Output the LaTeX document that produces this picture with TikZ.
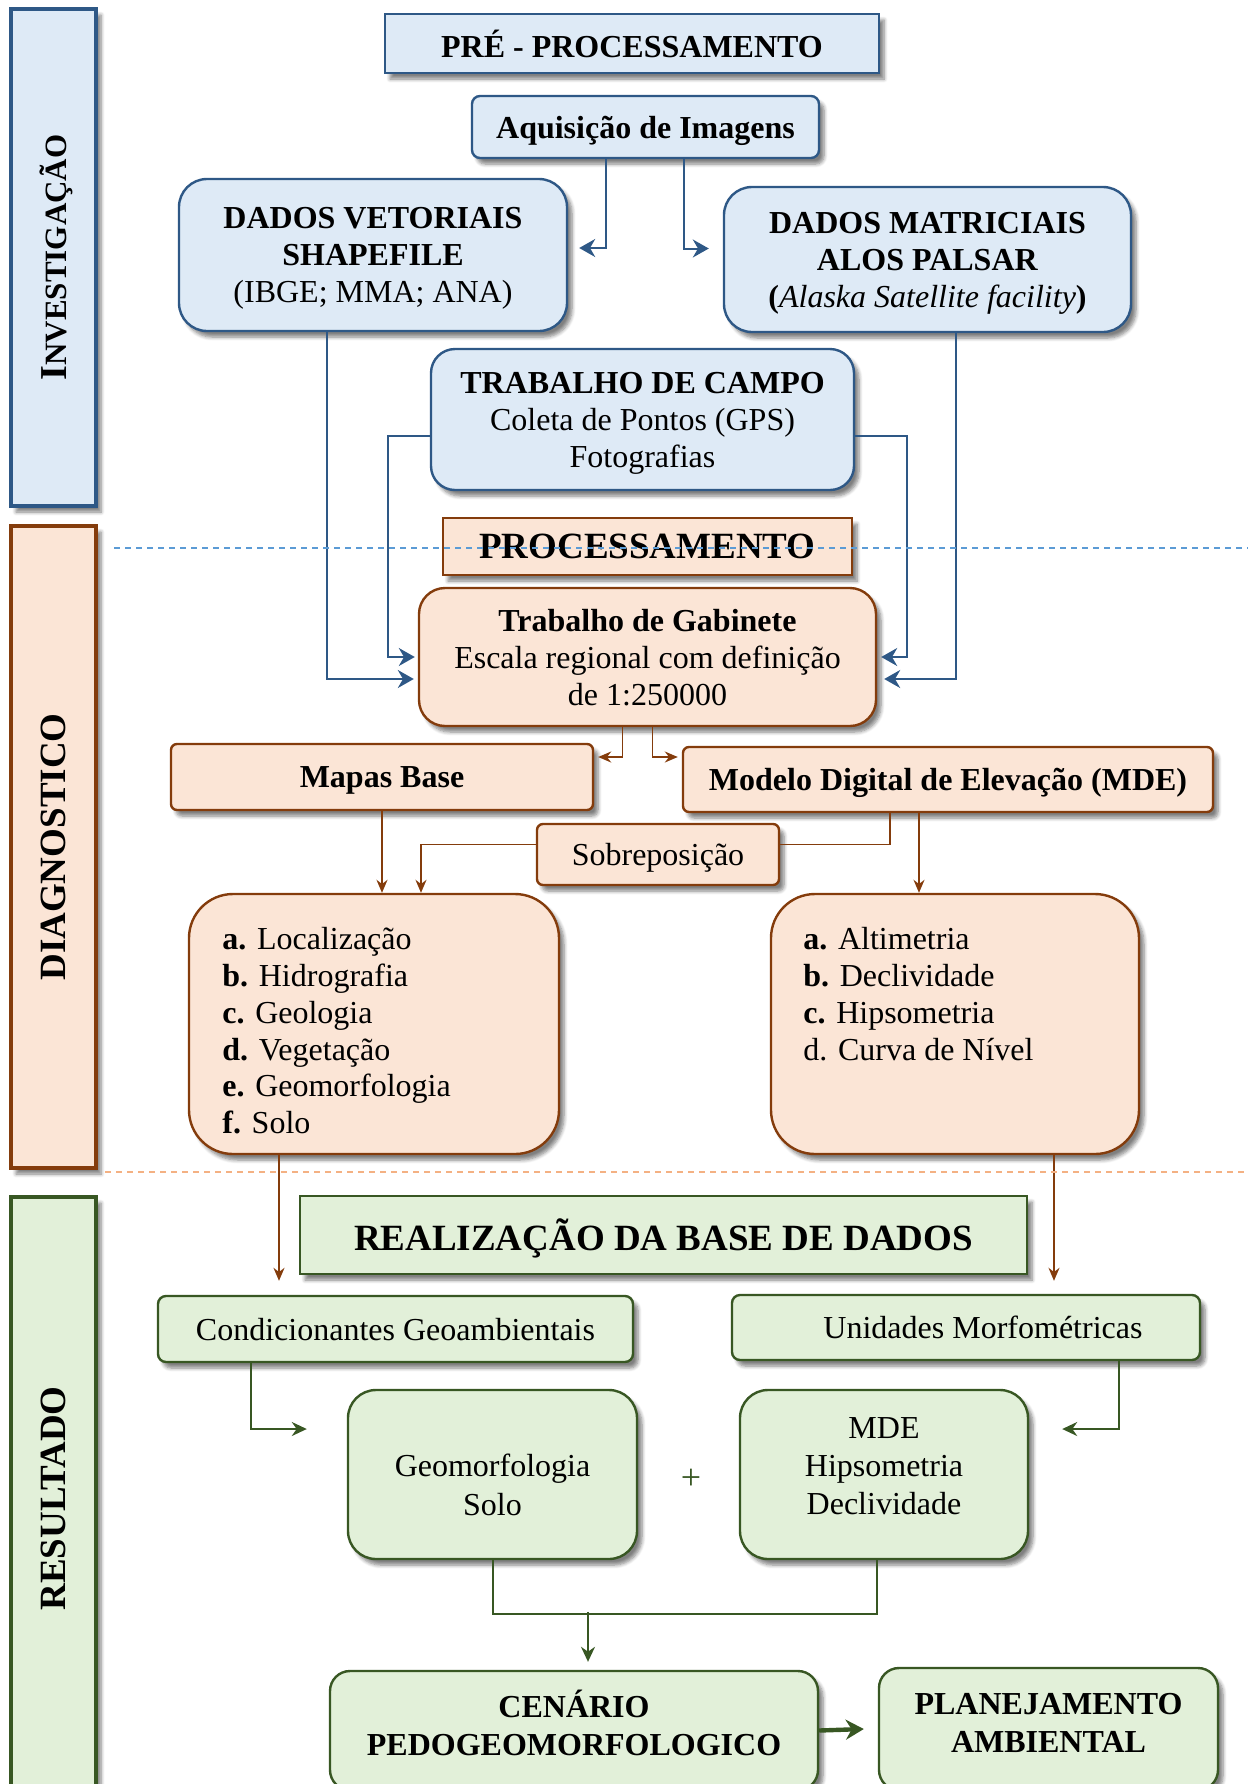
\documentclass[tikz,border=0pt]{standalone}
\usepackage{fontspec}
\setmainfont{Liberation Serif}
\usetikzlibrary{arrows.meta, calc, shadows.blur}

\definecolor{azulFundo}{HTML}{DEEAF6}
\definecolor{azulBorda}{HTML}{2E5886}
\definecolor{azulTraco}{HTML}{5B9BD5}
\definecolor{laranjaFundo}{HTML}{FBE5D6}
\definecolor{marromBorda}{HTML}{843C0C}
\definecolor{laranjaTraco}{HTML}{F4B183}
\definecolor{verdeFundo}{HTML}{E2F0D9}
\definecolor{verdeBorda}{HTML}{385723}

\begin{document}
\begin{tikzpicture}[x=0.5pt, y=-0.5pt,
    every node/.style={font=\fontsize{16}{18.5}\selectfont, align=center, inner sep=2pt, text depth=0pt},
    sombra/.style={blur shadow={shadow xshift=2.5pt, shadow yshift=-3pt, shadow blur steps=6, shadow opacity=50}},
    caixaAzul/.style={draw=azulBorda, fill=azulFundo, line width=1.2pt, sombra},
    caixaLaranja/.style={draw=marromBorda, fill=laranjaFundo, line width=1.2pt, sombra},
    caixaVerde/.style={draw=verdeBorda, fill=verdeFundo, line width=1.2pt, sombra},
    faixaTexto/.style={rotate=90, font=\fontsize{18.5}{18.5}\selectfont\bfseries},
    setaAzul/.style={draw=azulBorda, line width=1pt, -{Stealth[length=8pt,width=9pt]}},
    setaMarrom/.style={draw=marromBorda, line width=0.9pt, -{Stealth[length=6.5pt,width=5.5pt]}},
    setaVerde/.style={draw=verdeBorda, line width=1pt, -{Stealth[length=7.5pt,width=7pt]}},
  ]
  \useasboundingbox (0,0) rectangle (1248,1784);

  % Side bars
  \node[caixaAzul, line width=1.6pt, minimum width=42.5pt, minimum height=248.5pt] (barInv) at (53.5,257.5) {};
  \node[caixaLaranja, line width=1.6pt, minimum width=42.5pt, minimum height=321pt] (barDiag) at (53.5,847) {};
  \node[caixaVerde, line width=1.6pt, minimum width=42.5pt, minimum height=301.5pt] (barRes) at (53.5,1498.5) {};
  \node[faixaTexto] (txtInv) at (barInv) {{\fontsize{19}{19}\selectfont I}{\fontsize{15.5}{15.5}\selectfont NVESTIGAÇÃO}};
  \node[faixaTexto] (txtDiag) at (barDiag) {DIAGNOSTICO};
  \node[faixaTexto] (txtRes) at (barRes) {RESULTADO};

  % Nodes for pre-processing
  \node[caixaAzul, minimum width=247pt, minimum height=29.5pt] (pre) at (632,43.5) {\textbf{PRÉ - PROCESSAMENTO}};
  \node[caixaAzul, rounded corners=4pt, minimum width=173.5pt, minimum height=31pt] (aquis) at (645.5,127) {\textbf{Aquisição de Imagens}};
  \node[caixaAzul, rounded corners=14pt, minimum width=194pt, minimum height=76pt] (vetor) at (373,255)
    {\textbf{DADOS VETORIAIS}\\\textbf{SHAPEFILE}\\(IBGE; MMA; ANA)};
  \node[caixaAzul, rounded corners=14pt, minimum width=203.5pt, minimum height=72.5pt] (matric) at (927.5,259.5)
    {\textbf{DADOS MATRICIAIS}\\\textbf{ALOS PALSAR}\\\textbf{(}\textit{Alaska Satellite facility}\textbf{)}};
  \node[caixaAzul, rounded corners=12pt, minimum width=211.5pt, minimum height=70.5pt] (campo) at (642.5,419.5)
    {\textbf{TRABALHO DE CAMPO}\\Coleta de Pontos (GPS)\\Fotografias};

  % Nodes for processing
  \node[caixaLaranja, minimum width=204.5pt, minimum height=28.5pt, font=\fontsize{18.5}{18.5}\selectfont\bfseries] (proc) at (647.5,546.5) {PROCESSAMENTO};
  \node[caixaLaranja, rounded corners=13pt, minimum width=228.5pt, minimum height=69pt] (gabin) at (647.5,657)
    {\textbf{Trabalho de Gabinete}\\Escala regional com definição\\de 1:250000};
  \node[caixaLaranja, rounded corners=3pt, minimum width=211pt, minimum height=33pt] (mapas) at (382,777) {\textbf{Mapas Base}};
  \node[caixaLaranja, rounded corners=3pt, minimum width=265pt, minimum height=32.5pt] (mde) at (948,779.5) {\textbf{Modelo Digital de Elevação (MDE)}};
  \node[caixaLaranja, rounded corners=3pt, minimum width=121pt, minimum height=30.5pt] (sobre) at (658,854.5) {Sobreposição};
  \node[caixaLaranja, rounded corners=22pt, minimum width=185pt, minimum height=130pt] (listaBase) at (374,1024) {};
  \node[caixaLaranja, rounded corners=22pt, minimum width=184pt, minimum height=130pt] (listaMde) at (955,1024) {};
  \node[anchor=north west, align=left, inner sep=0pt, font=\fontsize{16}{18.4}\selectfont] (txtBase) at (222,927)
    {\textbf{a.} Localização\\\textbf{b.} Hidrografia\\\textbf{c.} Geologia\\\textbf{d.} Vegetação\\\textbf{e.} Geomorfologia\\\textbf{f.} Solo};
  \node[anchor=north west, align=left, inner sep=0pt, font=\fontsize{16}{18.4}\selectfont] (txtMde) at (803,927)
    {\textbf{a.} Altimetria\\\textbf{b.} Declividade\\\textbf{c.} Hipsometria\\d. Curva de Nível};

  % Nodes for results
  \node[caixaVerde, minimum width=363.5pt, minimum height=39pt, font=\fontsize{18.5}{18.5}\selectfont\bfseries] (realiz) at (663.5,1235) {REALIZAÇÃO DA BASE DE DADOS};
  \node[caixaVerde, rounded corners=4pt, minimum width=237.5pt, minimum height=33pt] (cond) at (395.5,1329) {Condicionantes Geoambientais};
  \node[caixaVerde, rounded corners=4pt, minimum width=234pt, minimum height=32.5pt] (unid) at (966,1327.5) {\hspace*{17pt}Unidades Morfométricas};
  \node[caixaVerde, rounded corners=14pt, minimum width=144.5pt, minimum height=84.5pt] (geomorf) at (492.5,1474.5) {};
  \node[caixaVerde, rounded corners=14pt, minimum width=144pt, minimum height=84.5pt] (mdeBox) at (884,1474.5) {};
  \node[font=\fontsize{16}{19.5}\selectfont] (txtGeomorf) at ($(geomorf)+(0,10)$) {Geomorfologia\\Solo};
  \node[font=\fontsize{16}{19}\selectfont] (txtMdeBox) at ($(mdeBox)+(0,-8)$) {MDE\\Hipsometria\\Declividade};
  \node[text=verdeBorda, font=\fontsize{18}{18}\selectfont] (mais) at (691,1479) {+};
  \node[caixaVerde, rounded corners=10pt, minimum width=244pt, minimum height=59.5pt] (cenario) at (574,1730.5) {};
  \node[caixaVerde, rounded corners=10pt, minimum width=169.5pt, minimum height=61pt] (planej) at (1048.5,1729) {};
  \node[font=\fontsize{16}{19}\selectfont\bfseries] (txtCenario) at ($(cenario)+(0,-8)$) {CENÁRIO\\PEDOGEOMORFOLOGICO};
  \node[font=\fontsize{16}{19}\selectfont\bfseries] (txtPlanej) at ($(planej)+(0,-6)$) {PLANEJAMENTO\\AMBIENTAL};

  % Blue connectors
  \draw[setaAzul] ($(aquis.south)+(-40,0)$) |- ($(vetor.east)+(11,-7)$);
  \draw[setaAzul] ($(aquis.south)+(38,0)$) |- ($(matric.west)+(-14,-11)$);
  \draw[setaAzul] ($(vetor.south)+(-46,0)$) |- ($(gabin.west)+(-4,22)$);
  \draw[setaAzul] ($(campo.west)+(0,16)$) -| ($(gabin.west)+(-30,0)$) -- ($(gabin.west)+(-3,0)$);
  \draw[setaAzul] ($(campo.east)+(0,16)$) -| ($(gabin.east)+(30,0)$) -- ($(gabin.east)+(4,0)$);
  \draw[setaAzul] ($(matric.south)+(28.5,0)$) |- ($(gabin.east)+(7,22)$);

  % Brown connectors
  \draw[setaMarrom] ($(gabin.south)+(-25,0)$) |- ($(mapas.east)+(4,-20)$);
  \draw[setaMarrom] ($(gabin.south)+(5,0)$) |- ($(mde.west)+(-4,-22.5)$);
  \draw[setaMarrom] (mapas.south) -- (mapas.south |- listaBase.north);
  \draw[draw=marromBorda, line width=0.9pt] ($(mde.south)+(-58,0)$) |- ($(sobre.east)+(0,-10)$);
  \draw[setaMarrom] ($(sobre.west)+(0,-10)$) -| ($(listaBase.north)+(47,0)$);
  \draw[setaMarrom] ($(mde.south)+(-29,0)$) -- ($(listaMde.north)+(-36,0)$);
  \draw[setaMarrom] ($(listaBase.south)+(-95,0)$) -- ($(cond.north)+(-116.5,-14)$);
  \draw[setaMarrom] ($(listaMde.south)+(99,0)$) -- ($(unid.north)+(88,-13)$);

  % Green connectors
  \draw[setaVerde] ($(cond.south)+(-144.5,0)$) |- ($(geomorf.west)+(-40,-45.5)$);
  \draw[setaVerde] ($(unid.south)+(153,0)$) |- ($(mdeBox.east)+(33,-45.5)$);
  \draw[draw=verdeBorda, line width=1pt] (geomorf.south) -- ++(0,54) -| ($(mdeBox.south)+(-7,0)$);
  \draw[setaVerde] ($(cenario.north)+(14,-58)$) -- ($(cenario.north)+(14,-8)$);
  \draw[draw=verdeBorda, line width=2.2pt, -{Stealth[length=9pt,width=10pt]}] (cenario.east) -- ($(planej.west)+(-14,0)$);

  % Dashed separators
  \draw[azulTraco, line width=1pt, dash pattern=on 3pt off 2.5pt] (114,548) -- (1248,548);
  \draw[laranjaTraco, line width=0.8pt, dash pattern=on 3pt off 2.5pt] (105,1172) -- (1248,1172);
\end{tikzpicture}
\end{document}
